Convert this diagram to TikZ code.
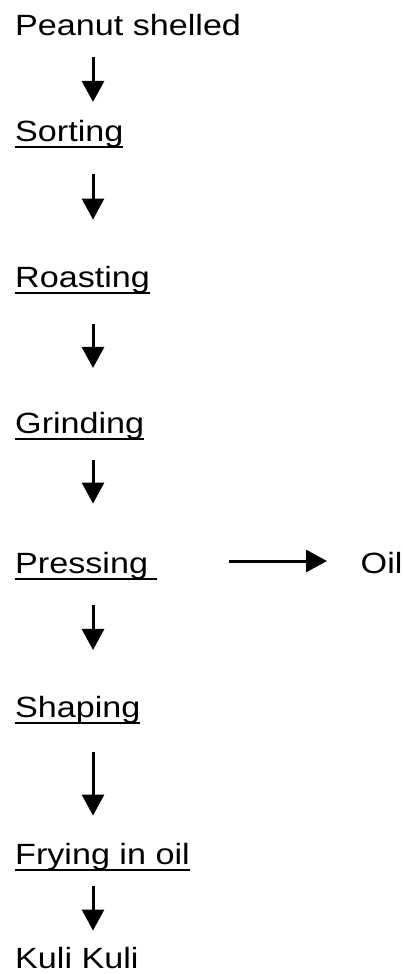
\documentclass[tikz,border=0pt]{standalone}
\usepackage{fontspec}
\setmainfont{Liberation Sans}[FakeStretch=1.165]
\usetikzlibrary{arrows.meta}
\newsavebox\ulbox
\newcommand\ulword[1]{\sbox\ulbox{#1}\rlap{\rule[-7pt]{\wd\ulbox}{2.4pt}}\usebox\ulbox}
\tikzset{
  stage/.style={anchor=base west, inner sep=0pt, font=\fontsize{29.3}{35}\selectfont},
  flow/.style={line width=3pt, -{Triangle[width=22pt,length=21pt]}}
}
\begin{document}
\begin{tikzpicture}[x=1pt,y=-1pt]
\useasboundingbox (0,0) rectangle (403,974);
\coordinate (ax) at (93,0);
\node[stage] (peanut) at (15,36) {Peanut shelled};
\node[stage] (sorting) at (15,141) {\ulword{Sorting}};
\node[stage] (roasting) at (15,287) {\ulword{Roasting}};
\node[stage] (grinding) at (15,433) {\ulword{Grinding}};
\node[stage] (pressing) at (15,573) {\ulword{Pressing }};
\node[stage] (oil) at (360.5,573) {Oil};
\node[stage] (shaping) at (15,717) {\ulword{Shaping}};
\node[stage] (frying) at (15,864) {\ulword{Frying in oil}};
\node[stage] (kuli) at (15,968) {Kuli Kuli};
\draw[flow, shorten <=20.6pt, shorten >=17.6pt] (peanut.south -| ax) -- (sorting.north -| ax);
\draw[flow, shorten <=26pt, shorten >=46pt] (sorting.south -| ax) -- (roasting.north -| ax);
\draw[flow, shorten <=30pt, shorten >=43.6pt] (roasting.south -| ax) -- (grinding.north -| ax);
\draw[flow, shorten <=20pt, shorten >=48pt] (grinding.south -| ax) -- (pressing.north -| ax);
\draw[flow, shorten <=25pt, shorten >=45.6pt] (pressing.south -| ax) -- (shaping.north -| ax);
\draw[flow, shorten <=28pt, shorten >=27pt] (shaping.south -| ax) -- (frying.north -| ax);
\draw[flow, shorten <=15pt, shorten >=16pt] (frying.south -| ax) -- (kuli.north -| ax);
\draw[flow, shorten <=71.7pt, shorten >=33.5pt] ([yshift=12pt]pressing.base east) -- ([yshift=12pt]oil.base west);
\end{tikzpicture}
\end{document}
